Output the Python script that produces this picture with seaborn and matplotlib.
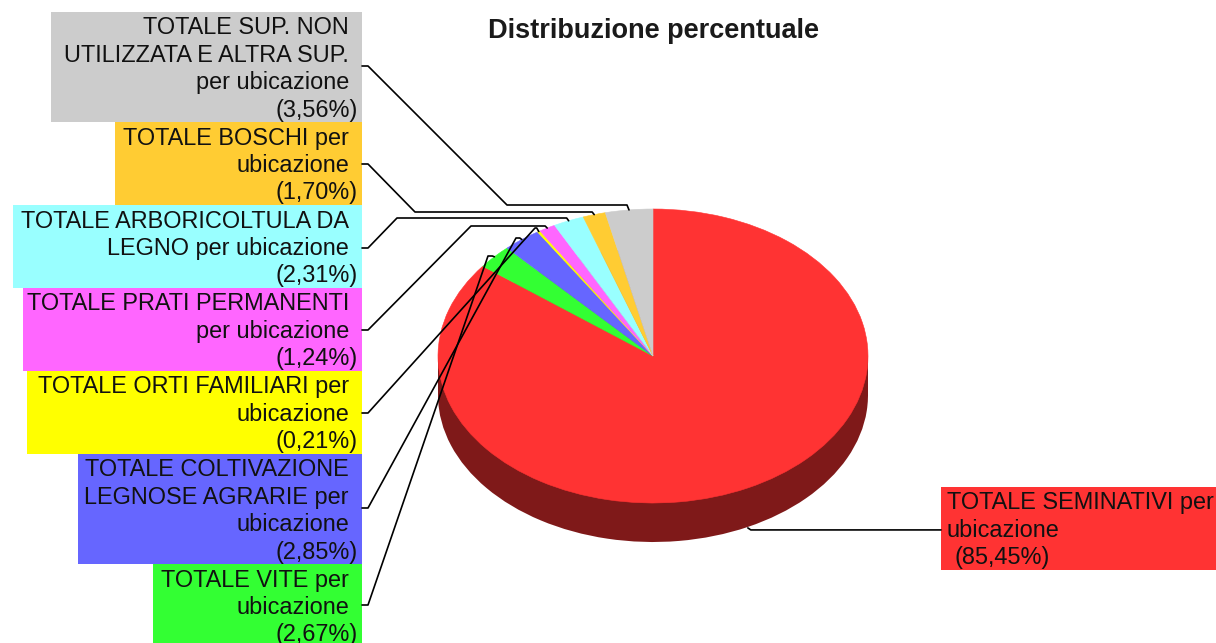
import numpy as np
import matplotlib
matplotlib.use('Agg')
import matplotlib.pyplot as plt
import seaborn as sns

W, H = 1216, 643

# slices, clockwise from 12 o'clock
values = [85.45, 2.67, 2.85, 0.21, 1.24, 2.31, 1.70, 3.56]
pct_labels = ['(85,45%)', '(2,67%)', '(2,85%)', '(0,21%)', '(1,24%)', '(2,31%)', '(1,70%)', '(3,56%)']
label_lines = [
    ['TOTALE SEMINATIVI per', 'ubicazione'],
    ['TOTALE VITE per', 'ubicazione'],
    ['TOTALE COLTIVAZIONE', 'LEGNOSE AGRARIE per', 'ubicazione'],
    ['TOTALE ORTI FAMILIARI per', 'ubicazione'],
    ['TOTALE PRATI PERMANENTI', 'per ubicazione'],
    ['TOTALE ARBORICOLTULA DA', 'LEGNO per ubicazione'],
    ['TOTALE BOSCHI per', 'ubicazione'],
    ['TOTALE SUP. NON', 'UTILIZZATA E ALTRA SUP.', 'per ubicazione'],
]
hex_colors = ['#FF3333', '#33FF33', '#6666FF', '#FFFF00', '#FF66FF', '#99FFFF', '#FFCC33', '#CCCCCC']
side_color = '#7F1919'
title = 'Distribuzione percentuale'

# label boxes in pixels: left, top, right, bottom
boxes = [
    (941, 487, 1216, 570),
    (153, 564, 362, 650),
    (78, 454, 362, 564),
    (27, 371, 362, 454),
    (23, 288, 362, 371),
    (13, 205, 362, 288),
    (115, 122, 362, 205),
    (51, 12, 362, 122),
]
# where the leader leaves the box and where it bends before it runs to the slice
leader_y = [None, 605, 508, 413, 330, 248, 164, 66]
knees = [None, (488, 256), (516, 238), (535, 228), (471, 226), (397, 218), (415, 212), (507, 205)]

# pie geometry in pixels
cx, cy, rx, ry, depth = 653, 356, 215, 147, 39

sns.set_theme(style='white')
plt.rcParams['font.family'] = ['Liberation Sans', 'DejaVu Sans']
colors = sns.color_palette(hex_colors)

fig = plt.figure(figsize=(W / 100, H / 100), dpi=100)

# pie axes: limits chosen so one unit is rx wide and ry tall, which squashes the circle
ax_pie = fig.add_axes([0, 0, 1, 1])
ax_pie.pie(values, colors=[side_color] * len(values), startangle=90, counterclock=False,
           center=(0, -depth / ry), radius=1, wedgeprops={'linewidth': 0})
ax_pie.fill_between([-1, 1], 0, -depth / ry, color=side_color, linewidth=0)
wedges, _ = ax_pie.pie(values, colors=colors, startangle=90, counterclock=False,
                       center=(0, 0), radius=1, wedgeprops={'linewidth': 0.4})
for w in wedges:
    w.set_edgecolor(w.get_facecolor())
ax_pie.set_aspect('auto')
ax_pie.set_xlim(-cx / rx, (W - cx) / rx)
ax_pie.set_ylim((cy - H) / ry, cy / ry)

# overlay in pixel coordinates for boxes, text and leaders
ax = fig.add_axes([0, 0, 1, 1], facecolor='none')
ax.set_xlim(0, W)
ax.set_ylim(H, 0)
ax.axis('off')

fs = 16.9
step = 27.4
mids = (np.cumsum(values) - np.array(values) / 2) / sum(values) * 2 * np.pi

for i in range(len(values)):
    l, t, r, b = boxes[i]
    ax.fill_between([l, r], t, b, color=colors[i], linewidth=0, zorder=2)
    lines = label_lines[i] + [pct_labels[i]]
    for j, line in enumerate(lines):
        y = t + 16 + j * step
        if i == 0:
            x = l + 14 if line.startswith('(') else l + 6
            ax.text(x, y, line, ha='left', va='center', fontsize=fs, color='#111111', zorder=4)
        else:
            x = 358 if line.startswith('(') else 349
            ax.text(x, y, line, ha='right', va='center', fontsize=fs, color='#111111', zorder=4)

    # leader from box edge to the rim at the middle of the slice
    ex = cx + rx * np.sin(mids[i])
    ey = cy - ry * np.cos(mids[i])
    if i == 0:
        ey += depth + 3
        ax.plot([l, ex + 3, ex], [ey, ey, ey - 2], color='black', lw=1.2, zorder=3)
    else:
        ym = leader_y[i]
        kx, ky = knees[i]
        xs = [r, r + 6, kx, ex - 2, ex]
        ys = [ym, ym, ky, ky, ey]
        ax.plot(xs, ys, color='black', lw=1.2, zorder=3)

ax.text(653.5, 31, title, ha='center', va='center', fontsize=19.5, fontweight='bold', color='#1a1a1a')

fig.savefig('out.png', dpi=100)
